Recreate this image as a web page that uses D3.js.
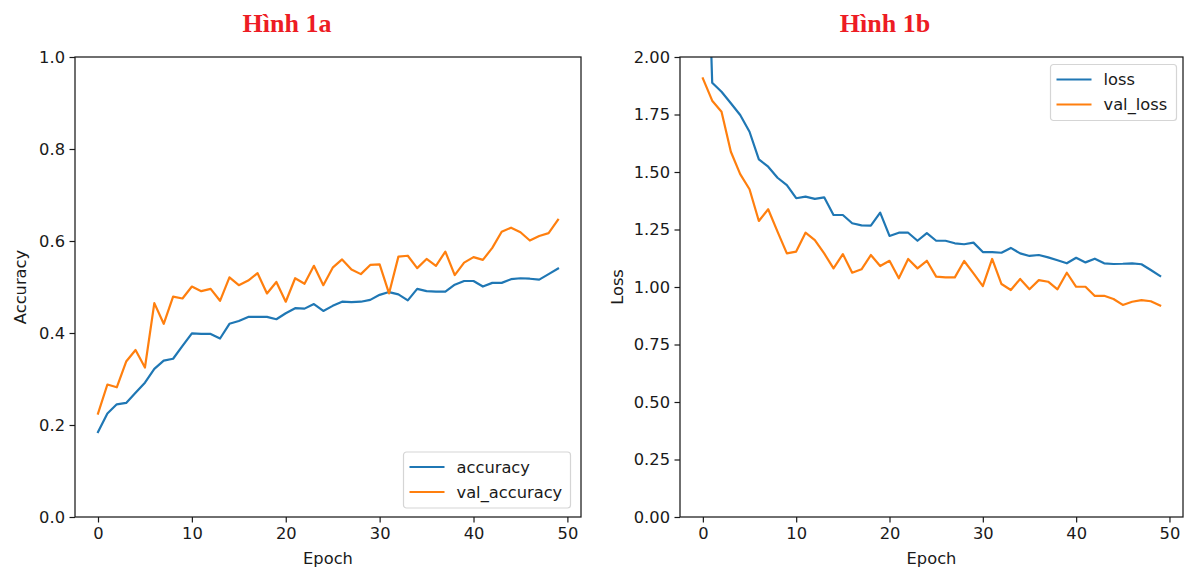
<!DOCTYPE html>
<html>
<head>
<meta charset="utf-8">
<script src="https://cdn.jsdelivr.net/npm/d3@7/dist/d3.min.js"></script>
<style>
    body { margin: 0; background: #fff; }
    svg text { font-family: "DejaVu Sans", sans-serif; fill: #1a1a1a; }
    .title { font-family: "Liberation Serif", "Times New Roman", serif !important; font-weight: bold; fill: #ed1c24 !important; }
</style>
</head>
<body>
<svg id="chart" width="1185" height="568"></svg>
<script>
// values
const accuracy = [0.185, 0.225, 0.245, 0.248, 0.270, 0.292, 0.322, 0.340, 0.344, 0.372,
    0.399, 0.398, 0.398, 0.388, 0.420, 0.426, 0.435, 0.435, 0.435, 0.430,
    0.443, 0.454, 0.453, 0.463, 0.448, 0.459, 0.468, 0.467, 0.468, 0.472,
    0.483, 0.489, 0.484, 0.471, 0.496, 0.491, 0.490, 0.490, 0.505, 0.513,
    0.513, 0.501, 0.509, 0.509, 0.517, 0.519, 0.518, 0.516, 0.528, 0.540];

const valAccuracy = [0.225, 0.288, 0.282, 0.338, 0.363, 0.325, 0.465, 0.420, 0.479, 0.475,
    0.501, 0.491, 0.496, 0.470, 0.521, 0.504, 0.514, 0.530, 0.486, 0.511,
    0.468, 0.519, 0.507, 0.546, 0.504, 0.542, 0.560, 0.538, 0.528, 0.548,
    0.549, 0.486, 0.566, 0.568, 0.541, 0.561, 0.546, 0.577, 0.526, 0.553,
    0.565, 0.559, 0.585, 0.620, 0.629, 0.619, 0.601, 0.611, 0.617, 0.646];

const loss = [3.2, 1.888, 1.849, 1.799, 1.748, 1.675, 1.555, 1.523, 1.475, 1.443,
    1.386, 1.393, 1.383, 1.390, 1.313, 1.313, 1.277, 1.268, 1.267, 1.323,
    1.222, 1.236, 1.236, 1.201, 1.234, 1.201, 1.201, 1.190, 1.186, 1.193,
    1.152, 1.152, 1.149, 1.170, 1.146, 1.135, 1.139, 1.129, 1.116, 1.103,
    1.127, 1.107, 1.123, 1.103, 1.100, 1.101, 1.103, 1.099, 1.074, 1.048];

const valLoss = [1.907, 1.810, 1.762, 1.588, 1.491, 1.425, 1.287, 1.338, 1.241, 1.146,
    1.154, 1.236, 1.204, 1.146, 1.081, 1.143, 1.062, 1.077, 1.139, 1.091,
    1.114, 1.038, 1.122, 1.081, 1.114, 1.045, 1.042, 1.042, 1.113, 1.059,
    1.004, 1.122, 1.013, 0.987, 1.035, 0.990, 1.030, 1.023, 0.990, 1.062,
    1.001, 1.001, 0.961, 0.962, 0.948, 0.922, 0.936, 0.943, 0.938, 0.919];

const xTicks = [0, 10, 20, 30, 40, 50];
const accTicks = [0, 0.2, 0.4, 0.6, 0.8, 1.0];
const lossTicks = [0, 0.25, 0.5, 0.75, 1.0, 1.25, 1.5, 1.75, 2.0];

const BLUE = '#1f77b4';
const ORANGE = '#ff7f0e';

class TrainingChart {
    constructor(svg, opts) {
        this.svg = svg;
        this.opts = opts;
        this.FRAME = opts.frame;
        this.FONT = 16.3;

        let n = opts.series[0].values.length;
        let pad = (n - 1) * 0.05;
        this.xScale = d3.scaleLinear()
            .domain([-pad, n - 1 + pad])
            .range([this.FRAME.left, this.FRAME.right]);

        this.yScale = d3.scaleLinear()
            .domain(opts.yDomain)
            .range([this.FRAME.bottom, this.FRAME.top]);

        this.g = svg.append('g');
        this.drawChart();
    }

    drawChart() {
        this.drawAxis();
        this.drawLines();
        this.drawFrame();
        this.drawLegend();
        this.drawLabels();
    }

    drawAxis() {
        let xAxis = d3.axisBottom(this.xScale)
            .tickValues(xTicks)
            .tickSizeOuter(0)
            .tickSize(5.5)
            .tickPadding(4.5);
        let gx = this.g.append('g')
            .attr('transform', `translate(0, ${this.FRAME.bottom})`)
            .call(xAxis);

        let yAxis = d3.axisLeft(this.yScale)
            .tickValues(this.opts.yTicks)
            .tickFormat(d3.format(this.opts.yFormat))
            .tickSizeOuter(0)
            .tickSize(5.5)
            .tickPadding(4.5);
        let gy = this.g.append('g')
            .attr('transform', `translate(${this.FRAME.left}, 0)`)
            .call(yAxis);

        [gx, gy].forEach(a => {
            a.select('.domain').remove();
            a.selectAll('.tick line').attr('stroke', '#1a1a1a').attr('stroke-width', 1.2);
            a.selectAll('.tick text')
                .attr('font-size', this.FONT)
                .attr('font-family', '"DejaVu Sans", sans-serif')
                .attr('fill', '#1a1a1a');
        });
    }

    drawLines() {
        let clipId = 'clip-' + this.opts.id;
        this.g.append('clipPath').attr('id', clipId)
            .append('rect')
            .attr('x', this.FRAME.left)
            .attr('y', this.FRAME.top)
            .attr('width', this.FRAME.right - this.FRAME.left)
            .attr('height', this.FRAME.bottom - this.FRAME.top);

        let line = d3.line()
            .x((d, i) => this.xScale(i))
            .y(d => this.yScale(d));

        this.g.append('g')
            .attr('clip-path', `url(#${clipId})`)
            .selectAll('path')
            .data(this.opts.series)
            .join('path')
            .attr('d', s => line(s.values))
            .attr('fill', 'none')
            .attr('stroke', s => s.color)
            .attr('stroke-width', 2.2)
            .attr('stroke-linejoin', 'round')
            .attr('stroke-linecap', 'square');
    }

    drawFrame() {
        this.g.append('rect')
            .attr('x', this.FRAME.left)
            .attr('y', this.FRAME.top)
            .attr('width', this.FRAME.right - this.FRAME.left)
            .attr('height', this.FRAME.bottom - this.FRAME.top)
            .attr('fill', 'none')
            .attr('stroke', '#1a1a1a')
            .attr('stroke-width', 1.25);
    }

    drawLegend() {
        let lg = this.opts.legend;
        let box = this.g.append('g').attr('transform', `translate(${lg.x}, ${lg.y})`);
        box.append('rect')
            .attr('width', lg.w)
            .attr('height', 56)
            .attr('rx', 3)
            .attr('fill', 'white')
            .attr('fill-opacity', 0.8)
            .attr('stroke', '#d5d5d5')
            .attr('stroke-width', 1.2);

        let rows = box.selectAll('g.row')
            .data(this.opts.series)
            .join('g')
            .attr('class', 'row')
            .attr('transform', (d, i) => `translate(0, ${15 + i * 25})`);
        rows.append('line')
            .attr('x1', 6).attr('x2', 41)
            .attr('stroke', d => d.color)
            .attr('stroke-width', 2.2);
        rows.append('text')
            .attr('x', 53)
            .attr('dy', '0.35em')
            .attr('font-size', this.FONT)
            .text(d => d.name);
    }

    drawLabels() {
        let cx = (this.FRAME.left + this.FRAME.right) / 2;
        let cy = (this.FRAME.top + this.FRAME.bottom) / 2;

        this.g.append('text')
            .attr('class', 'title')
            .attr('x', this.opts.titleX)
            .attr('y', 32)
            .attr('text-anchor', 'middle')
            .attr('font-size', 26)
            .text(this.opts.title);

        this.g.append('text')
            .attr('x', cx)
            .attr('y', 564)
            .attr('text-anchor', 'middle')
            .attr('font-size', this.FONT)
            .text('Epoch');

        this.g.append('text')
            .attr('transform', `translate(${this.opts.yLabelX}, ${cy}) rotate(-90)`)
            .attr('text-anchor', 'middle')
            .attr('font-size', this.FONT)
            .text(this.opts.yLabel);
    }
}

const svg = d3.select('#chart');

new TrainingChart(svg, {
    id: 'acc',
    title: 'Hình 1a',
    titleX: 287,
    frame: {left: 75, right: 581, top: 57, bottom: 517},
    yDomain: [0, 1],
    yTicks: accTicks,
    yFormat: '.1f',
    yLabel: 'Accuracy',
    yLabelX: 26,
    legend: {x: 403.5, y: 452, w: 167},
    series: [
        {name: 'accuracy', values: accuracy, color: BLUE},
        {name: 'val_accuracy', values: valAccuracy, color: ORANGE}
    ]
});

new TrainingChart(svg, {
    id: 'loss',
    title: 'Hình 1b',
    titleX: 885,
    frame: {left: 680, right: 1183, top: 57, bottom: 517},
    yDomain: [0, 2],
    yTicks: lossTicks,
    yFormat: '.2f',
    yLabel: 'Loss',
    yLabelX: 623,
    legend: {x: 1050.5, y: 64.5, w: 126},
    series: [
        {name: 'loss', values: loss, color: BLUE},
        {name: 'val_loss', values: valLoss, color: ORANGE}
    ]
});
</script>
</body>
</html>
